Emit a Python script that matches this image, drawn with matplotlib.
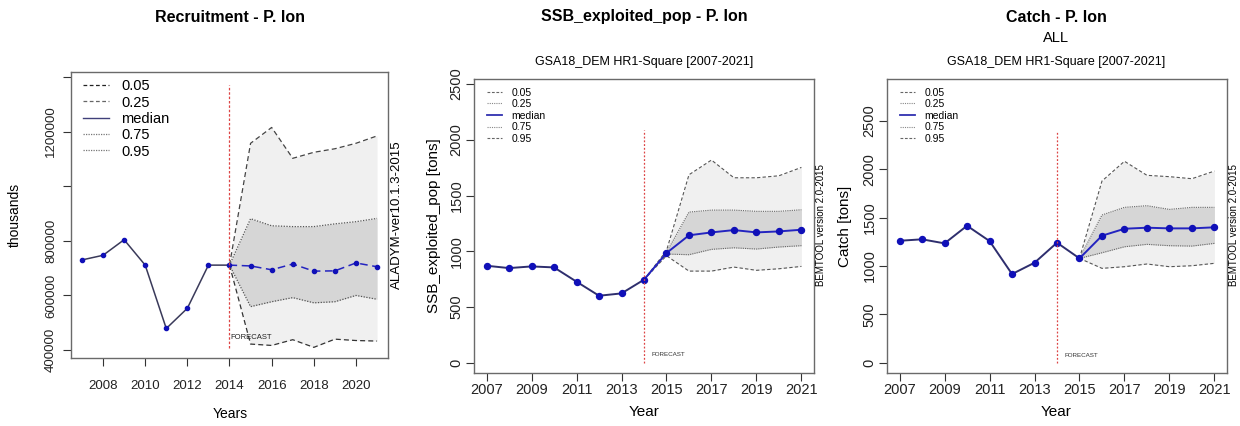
import matplotlib
matplotlib.use("Agg")
import matplotlib.pyplot as plt
import numpy as np

plt.rcParams['font.family'] = ['Liberation Sans', 'DejaVu Sans']

years = list(range(2007, 2022))
fc_years_rec = list(range(2014, 2022))
fc_years_ssb = list(range(2014, 2022))
fc_years_catch = list(range(2015, 2022))

# Recruitment (thousands)
rec_median = [730000, 747000, 804000, 711000, 479000, 553000, 711000, 711000,
              708000, 694000, 715000, 689000, 690000, 719000, 705000]
rec_q05 = [711000, 422000, 417000, 438000, 410000, 440000, 435000, 433000]
rec_q25 = [711000, 559000, 577000, 592000, 573000, 577000, 600000, 586000]
rec_q75 = [711000, 881000, 855000, 852000, 852000, 862000, 870000, 882000]
rec_q95 = [711000, 1157000, 1215000, 1102000, 1124000, 1137000, 1157000, 1184000]

# SSB exploited pop (tons)
ssb_median = [870, 849, 864, 855, 727, 601, 622, 745, 984, 1143, 1169, 1190, 1169, 1178, 1193]
ssb_q05 = [745, 960, 822, 822, 858, 829, 843, 864]
ssb_q25 = [745, 975, 969, 1017, 1031, 1020, 1038, 1050]
ssb_q75 = [745, 990, 1351, 1369, 1369, 1358, 1358, 1372]
ssb_q95 = [745, 1005, 1686, 1818, 1659, 1659, 1677, 1752]

# Catch (tons)
catch_median = [1260, 1275, 1233, 1415, 1257, 916, 1033, 1240, 1078, 1312, 1384, 1395, 1388, 1388, 1399]
catch_q05 = [1078, 975, 992, 1020, 992, 1002, 1027]
catch_q25 = [1078, 1136, 1198, 1223, 1209, 1205, 1233]
catch_q75 = [1078, 1526, 1605, 1622, 1584, 1605, 1605]
catch_q95 = [1078, 1877, 2081, 1936, 1922, 1901, 1980]

legend_labels = ['0.05', '0.25', 'median', '0.75', '0.95']

W, H = 1240, 426
fig = plt.figure(figsize=(W / 100, H / 100), dpi=100)


def px_axes(l, r, t, b):
    return fig.add_axes([l / W, 1 - b / H, (r - l) / W, (b - t) / H])


def ftext(x, y, s, **kw):
    fig.text(x / W, 1 - y / H, s, **kw)


LIGHT = '#f0f0f0'
DARK = '#d6d6d6'
FC = '#2424c0'
HIST = '#2e2e6e'
PT = '#1010b8'
SPINE = '#6a6a6a'
RED = '#dd4444'


def style_axes(ax, fs):
    for s in ax.spines.values():
        s.set_color(SPINE)
        s.set_linewidth(1.0)
    ax.tick_params(axis='both', colors='#333333', labelsize=fs, length=6, width=0.8,
                   labelcolor='#222222')


# ---------------- Panel 1: Recruitment ----------------
ax1 = px_axes(71, 388, 72, 358)
fy = fc_years_rec
ax1.fill_between(fy, rec_q05, rec_q95, color=LIGHT, lw=0)
ax1.fill_between(fy, rec_q25, rec_q75, color=DARK, lw=0)
ax1.plot(fy, rec_q05, color='#333333', ls=(0, (4, 2.5)), lw=0.9)
ax1.plot(fy, rec_q95, color='#444444', ls=(0, (4, 2.5)), lw=0.9)
ax1.plot(fy, rec_q25, color='#555555', ls=(0, (1, 1.2)), lw=0.9)
ax1.plot(fy, rec_q75, color='#555555', ls=(0, (1, 1.2)), lw=0.9)
ax1.plot(years[:8], rec_median[:8], color='#3a3a5a', lw=1.1)
ax1.plot(years[7:], rec_median[7:], color=FC, lw=1.1, ls=(0, (5, 3)))
ax1.plot(years, rec_median, 'o', color=PT, ms=3.0, mec=PT)
ax1.vlines(2014, 407000, 1372000, color=RED, lw=0.9, ls=(0, (2, 1.5)))
ax1.text(2014.05, 445000, 'FORECAST', fontsize=5.5, color='#222222', va='center')
ax1.set_xlim(2006.48, 2021.52)
ax1.set_ylim(371000, 1418000)
ax1.set_xticks([2008, 2010, 2012, 2014, 2016, 2018, 2020])
ax1.set_yticks([400000, 600000, 800000, 1000000, 1200000, 1400000])
ax1.set_yticklabels(['400000', '600000', '800000', '', '1200000', ''], rotation=90, va='center')
style_axes(ax1, 9.5)
ax1.tick_params(axis='x', pad=10)
ax1.tick_params(axis='y', pad=4)
h_med1 = plt.Line2D([], [], color='#40407a', lw=1.0)
h05 = plt.Line2D([], [], color='#222222', ls=(0, (3, 2)), lw=0.9)
h25 = plt.Line2D([], [], color='#666666', ls=(0, (3, 2)), lw=0.9)
h75 = plt.Line2D([], [], color='#777777', ls=(0, (1, 1)), lw=0.9)
h95 = plt.Line2D([], [], color='#777777', ls=(0, (1, 1)), lw=0.9)
ax1.legend([h05, h25, h_med1, h75, h95], legend_labels, loc='upper left', frameon=False,
           fontsize=10.5, handlelength=1.75, handletextpad=0.85, labelspacing=0.16,
           borderaxespad=0.0, bbox_to_anchor=(0.02, 0.995))
ftext(230, 17, 'Recruitment - P. lon', fontsize=11.5, fontweight='bold', ha='center', va='center')
ftext(15, 215, 'thousands', fontsize=10, rotation=90, ha='center', va='center')
ftext(230, 414, 'Years', fontsize=10, ha='center', va='center')
ftext(397, 215, 'ALADYM-ver10.1.3-2015', fontsize=9.5, rotation=90, ha='center', va='center')


# ---------------- Panels 2 and 3 ----------------
def bem_panel(l, r, med, fy, q05, q25, q75, q95, fill_from, hist_end, ylim, vtop,
              title, ylabel, cx, yt, fc_x, sub_all=False):
    ax = px_axes(l, r, 79, 373)
    fi = fy.index(fill_from)
    ax.fill_between(fy[fi:], q05[fi:], q95[fi:], color=LIGHT, lw=0)
    ax.fill_between(fy[fi:], q25[fi:], q75[fi:], color=DARK, lw=0)
    ax.plot(fy, q05, color='#555555', ls=(0, (3, 2)), lw=0.8)
    ax.plot(fy, q95, color='#555555', ls=(0, (3, 2)), lw=0.8)
    ax.plot(fy, q25, color='#666666', ls=(0, (1, 1)), lw=0.8)
    ax.plot(fy, q75, color='#666666', ls=(0, (1, 1)), lw=0.8)
    hi = years.index(hist_end)
    ax.plot(years[:hi + 1], med[:hi + 1], color=HIST, lw=1.4)
    ax.plot(years[hi:], med[hi:], color=FC, lw=1.4)
    ax.plot(years, med, 'o', color=PT, ms=4.3, mec=PT)
    ax.vlines(2014, 0, vtop, color=RED, lw=0.9, ls=(0, (1.5, 1.5)))
    ax.text(fc_x, 70, 'FORECAST', fontsize=4.5, color='#333333', va='center')
    ax.set_xlim(2006.44, 2021.56)
    ax.set_ylim(*ylim)
    ax.set_xticks(list(range(2007, 2022, 2)))
    ax.set_yticks([0, 500, 1000, 1500, 2000, 2500])
    ax.set_yticklabels(['0', '500', '1000', '1500', '2000', '2500'], rotation=90, va='center')
    style_axes(ax, 10.5)
    ax.tick_params(axis='x', pad=1.5)
    ax.tick_params(axis='y', pad=1.5)
    hmed = plt.Line2D([], [], color='#3030b0', lw=1.3)
    hd = plt.Line2D([], [], color='#666666', ls=(0, (2.5, 1.5)), lw=0.8)
    ho = plt.Line2D([], [], color='#888888', ls=(0, (1, 1)), lw=0.8)
    ax.legend([hd, ho, hmed, ho, hd], legend_labels, loc='upper left', frameon=False,
              fontsize=7.5, handlelength=1.45, handletextpad=0.9, labelspacing=0.15,
              borderaxespad=0.0, bbox_to_anchor=(0.025, 0.985))
    ftext(cx, 17, title, fontsize=11.5, fontweight='bold', ha='center', va='center')
    if sub_all:
        ftext(cx, 38, 'ALL', fontsize=10.5, ha='center', va='center')
    ftext(cx, 62, 'GSA18_DEM HR1-Square [2007-2021]', fontsize=9, ha='center', va='center')
    ftext(yt, 226, ylabel, fontsize=11, rotation=90, ha='center', va='center')
    ftext(cx, 412, 'Year', fontsize=11, ha='center', va='center')
    ftext(r + 7, 225, 'BEMTOOL version 2.0-2015', fontsize=7, rotation=90, ha='center', va='center')
    return ax


bem_panel(474, 814, ssb_median, fc_years_ssb, ssb_q05, ssb_q25, ssb_q75, ssb_q95,
          2015, 2014, (-92, 2545), 2087, 'SSB_exploited_pop - P. lon',
          'SSB_exploited_pop [tons]', 644, 434, 2014.35)
bem_panel(887, 1227, catch_median, fc_years_catch, catch_q05, catch_q25, catch_q75, catch_q95,
          2015, 2015, (-106, 2931), 2397, 'Catch - P. lon',
          'Catch [tons]', 1056, 845, 2014.35, sub_all=True)

fig.savefig('out.png', dpi=100, facecolor='white')
